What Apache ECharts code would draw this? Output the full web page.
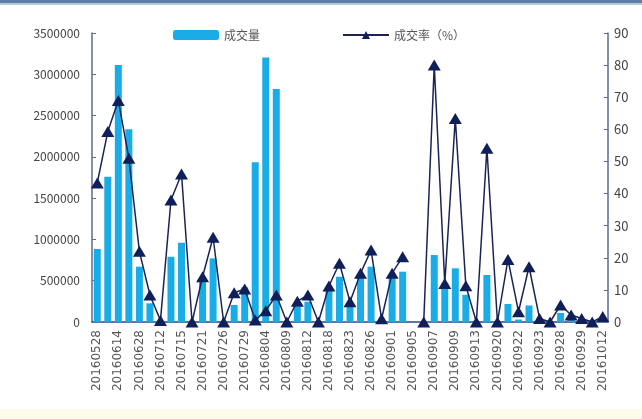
<!DOCTYPE html>
<html>
<head>
<meta charset="utf-8">
<script src="https://cdn.jsdelivr.net/npm/echarts@6/dist/echarts.min.js"></script>
<style>
  html, body { margin: 0; padding: 0; background: #fff; }
  #main { width: 642px; height: 419px; }
</style>
</head>
<body>
<div id="main"></div>
<script>
// 数据
const dates = [
    '20160528', '20160607', '20160614', '20160621', '20160628', '20160705', '20160712', '20160713',
    '20160715', '20160719', '20160721', '20160722', '20160726', '20160727', '20160729', '20160802',
    '20160804', '20160805', '20160809', '20160810', '20160812', '20160816', '20160818', '20160819',
    '20160823', '20160825', '20160826', '20160830', '20160901', '20160902', '20160905', '20160906',
    '20160907', '20160908', '20160909', '20160912', '20160913', '20160914', '20160920', '20160921',
    '20160922', '20160922', '20160923', '20160926', '20160928', '20160928', '20160929', '20160930',
    '20161012'
];
const volume = [
    884000, 1759000, 3111000, 2333000, 670000, 226000, 0, 790000,
    960000, 0, 488000, 771000, 0, 206000, 420000, 1935000,
    3204000, 2821000, 0, 185000, 246000, 0, 420000, 548000,
    200000, 530000, 670000, 0, 550000, 609000, null, 0,
    811000, 470000, 650000, 330000, 0, 569000, 0, 218000,
    30000, 200000, 20000, 0, 109000, 30000, 20000, 0,
    20000
];
const rate = [
    43.3, 59.3, 69, 51, 22, 8.4, 0.5, 38,
    46.1, 0, 14.1, 26.4, 0, 9.1, 10.3, 0.6,
    3.5, 8.4, 0, 6.5, 8.4, 0, 11.2, 18.3,
    6.3, 15.2, 22.4, 1, 15.2, 20.3, null, 0,
    80, 12, 63.4, 11.3, 0, 54.1, 0, 19.5,
    3.2, 17.2, 1.1, 0, 5.3, 2.2, 1.1, 0,
    1.7
];

function chart() {
    let myChart = echarts.init(document.querySelector('#main'));
    const axisColor = '#5b6b8c';
    const textStyle = { color: '#444', fontSize: 12, fontFamily: 'Noto Sans CJK SC' };
    let option = {
        animation: false,
        backgroundColor: '#fff',
        graphic: [
            { type: 'rect', shape: { x: 0, y: 0, width: 642, height: 3 }, style: { fill: '#5f7fa8' } },
            { type: 'rect', shape: { x: 0, y: 3, width: 642, height: 2 }, style: { fill: '#b9c8dc' } },
            { type: 'rect', shape: { x: 0, y: 409, width: 642, height: 10 }, style: { fill: '#fffbea' } }
        ],
        legend: {
            top: 24,
            left: 168,
            itemGap: 82,
            textStyle: { color: '#555', fontSize: 12, fontFamily: 'Noto Sans CJK SC' },
            data: [
                { name: '成交量', icon: 'roundRect', itemStyle: { color: '#1aace6' } },
                { name: '成交率（%）' }
            ],
            itemWidth: 46,
            itemHeight: 10
        },
        grid: { left: 92, right: 34, top: 33, bottom: 97 },
        xAxis: {
            type: 'category',
            data: dates,
            axisLine: { lineStyle: { color: '#2a4a86', width: 1.5 } },
            axisTick: { show: false },
            axisLabel: { rotate: 90, interval: 1, margin: 8, color: '#555', fontSize: 12, fontFamily: 'DejaVu Sans' }
        },
        yAxis: [
            {
                type: 'value',
                min: 0,
                max: 3500000,
                interval: 500000,
                splitLine: { show: false },
                axisLine: { show: true, lineStyle: { color: axisColor, width: 1.5 } },
                axisTick: { show: true, inside: true, length: 4, lineStyle: { color: axisColor } },
                axisLabel: Object.assign({ margin: 12, formatter: v => String(v) }, textStyle)
            },
            {
                type: 'value',
                min: 0,
                max: 90,
                interval: 10,
                splitLine: { show: false },
                axisLine: { show: true, lineStyle: { color: axisColor, width: 1.5 } },
                axisTick: { show: true, inside: true, length: 4, lineStyle: { color: axisColor } },
                axisLabel: Object.assign({ margin: 6 }, textStyle, { fontSize: 13 })
            }
        ],
        series: [
            {
                name: '成交量',
                type: 'bar',
                data: volume,
                barWidth: 7,
                itemStyle: { color: '#1aace6' }
            },
            {
                name: '成交率（%）',
                type: 'line',
                yAxisIndex: 1,
                data: rate,
                connectNulls: false,
                symbol: 'triangle',
                symbolSize: [13, 11],
                showAllSymbol: true,
                lineStyle: { color: '#1b2355', width: 1.5 },
                itemStyle: { color: '#0f1f5a' }
            }
        ]
    };
    myChart.setOption(option);
}
chart();
</script>
</body>
</html>
